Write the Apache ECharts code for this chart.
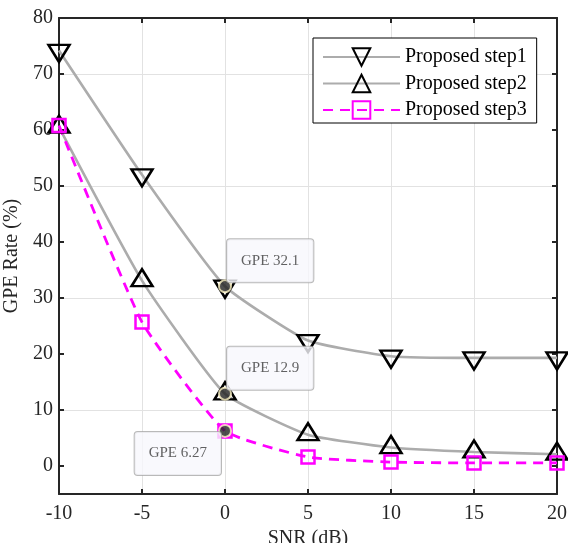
<!DOCTYPE html>
<html>
<head>
<meta charset="utf-8">
<script src="https://cdn.jsdelivr.net/npm/echarts@6/dist/echarts.min.js"></script>
<style>
  html, body { margin: 0; padding: 0; background: #ffffff; }
  #chart { width: 568px; height: 543px; }
</style>
</head>
<body>
<div id="chart"></div>
<script>
// SNR sweep (dB) and GPE rate (%) of the three processing steps
const snr = [-10, -5, 0, 5, 10, 15, 20];
const step1 = [74.2, 52.0, 32.1, 22.4, 19.6, 19.3, 19.3];
const step2 = [60.5, 33.1, 12.9, 5.6, 3.3, 2.5, 2.1];
const step3 = [60.8, 25.7, 6.27, 1.6, 0.7, 0.55, 0.55];
const seriesNames = ['Proposed step1', 'Proposed step2', 'Proposed step3'];
const yTicks = [0, 10, 20, 30, 40, 50, 60, 70, 80];
const tipSnr = 0;          // data tips are pinned at this SNR
const tipPrefix = 'GPE ';

const FONT = '"Liberation Serif", "Times New Roman", serif';
const pairs = (ys) => snr.map((x, i) => [x, ys[i]]);
const tipIdx = snr.indexOf(tipSnr);

const chart = echarts.init(document.getElementById('chart'), null, { renderer: 'canvas' });

const tipBox = {
  show: true,
  formatter: (p) => tipPrefix + p.value[1],
  fontFamily: FONT,
  fontSize: 15,
  color: '#3a3a3a',
  backgroundColor: '#f7f7fc',
  borderColor: '#a8a8a8',
  borderWidth: 1,
  borderRadius: 3,
  padding: [14, 14]
};

const axisText = { fontFamily: FONT, fontSize: 20, color: '#262626' };
const boxLine = { color: '#262626', width: 2 };

const option = {
  animation: false,
  backgroundColor: '#ffffff',
  grid: { left: 59, right: 11, top: 18, bottom: 49, containLabel: false, outerBoundsMode: 'none' },
  legend: {
    orient: 'vertical',
    left: 313,
    top: 38,
    padding: [9, 10, 3, 9],
    itemWidth: 77,
    itemHeight: 22,
    itemGap: 6.5,
    backgroundColor: '#ffffff',
    borderColor: '#000000',
    borderWidth: 1,
    data: seriesNames,
    textStyle: { fontFamily: FONT, fontSize: 20, color: '#000000', lineHeight: 20 }
  },
  xAxis: [
    {
      type: 'value', min: -10, max: 20, interval: 5,
      position: 'bottom',
      name: 'SNR (dB)', nameLocation: 'middle', nameGap: 33,
      nameTextStyle: axisText,
      axisLine: { show: true, onZero: false, lineStyle: boxLine },
      axisTick: { show: true, inside: true, length: 5, lineStyle: boxLine },
      axisLabel: Object.assign({ margin: 10 }, axisText),
      splitLine: { show: true, lineStyle: { color: '#e2e2e2', width: 1 } }
    },
    {
      type: 'value', min: -10, max: 20, interval: 5,
      position: 'top',
      axisLine: { show: true, onZero: false, lineStyle: boxLine },
      axisTick: { show: true, inside: true, length: 5, lineStyle: boxLine },
      axisLabel: { show: false },
      splitLine: { show: false }
    }
  ],
  yAxis: [
    {
      type: 'value', min: -5, max: 80, interval: 5,
      position: 'left',
      name: 'GPE Rate (%)', nameLocation: 'middle', nameGap: 31, nameRotate: 90,
      nameTextStyle: axisText,
      axisLine: { show: true, onZero: false, lineStyle: boxLine },
      axisTick: { show: true, inside: true, length: 5, customValues: yTicks, lineStyle: boxLine },
      axisLabel: Object.assign({ margin: 6, customValues: yTicks }, axisText),
      splitLine: { show: true, lineStyle: { color: ['rgba(0,0,0,0)', '#e2e2e2'], width: 1 } }
    },
    {
      type: 'value', min: -5, max: 80, interval: 5,
      position: 'right',
      axisLine: { show: true, onZero: false, lineStyle: boxLine },
      axisTick: { show: true, inside: true, length: 5, customValues: yTicks, lineStyle: boxLine },
      axisLabel: { show: false },
      splitLine: { show: false }
    }
  ],
  series: [
    {
      name: seriesNames[0], type: 'line', data: pairs(step1),
      smooth: 0.15, z: 3,
      lineStyle: { color: '#acacac', width: 2.6 },
      symbol: 'triangle', symbolSize: [21, 17], symbolRotate: 180, symbolOffset: [0, 3],
      itemStyle: { color: 'rgba(255,255,255,0)', borderColor: '#000000', borderWidth: 2.5 }
    },
    {
      name: seriesNames[1], type: 'line', data: pairs(step2),
      smooth: 0.15, z: 3,
      lineStyle: { color: '#acacac', width: 2.6 },
      symbol: 'triangle', symbolSize: [21, 17], symbolOffset: [0, -3],
      itemStyle: { color: 'rgba(255,255,255,0)', borderColor: '#000000', borderWidth: 2.5 }
    },
    {
      name: seriesNames[2], type: 'line', data: pairs(step3),
      smooth: 0.15, z: 3,
      lineStyle: { color: '#ff00ff', width: 2.8, type: [10, 7] },
      symbol: 'rect', symbolSize: 13,
      itemStyle: { color: 'rgba(255,255,255,0)', borderColor: '#ff00ff', borderWidth: 2.5 }
    },
    {
      name: 'tips', type: 'scatter', z: 10,
      symbol: 'circle', symbolSize: 12,
      itemStyle: { color: '#222222', borderColor: '#fff6c8', borderWidth: 2 },
      data: [
        { value: [tipSnr, step1[tipIdx]], label: Object.assign({}, tipBox, { position: [9, 3], align: 'left', verticalAlign: 'bottom' }) },
        { value: [tipSnr, step2[tipIdx]], label: Object.assign({}, tipBox, { position: [9, 3], align: 'left', verticalAlign: 'bottom' }) },
        { value: [tipSnr, step3[tipIdx]], label: Object.assign({}, tipBox, { position: [3, 8], align: 'right', verticalAlign: 'top' }) }
      ]
    }
  ]
};

chart.setOption(option);
</script>
</body>
</html>
